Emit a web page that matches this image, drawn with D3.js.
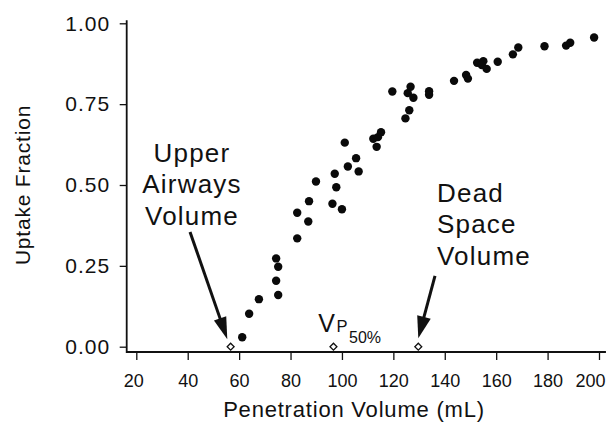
<!DOCTYPE html>
<html>
<head>
<meta charset="utf-8">
<script src="https://cdn.jsdelivr.net/npm/d3@7"></script>
<style>
  html, body { margin: 0; padding: 0; background: #fff; }
  svg { display: block; }
  text { font-family: "Liberation Sans", Arial, Helvetica, sans-serif; fill: #111; }
</style>
</head>
<body>
<svg id="chart" width="613" height="425"></svg>
<script>
// ---- data ----
const volume = [61.2, 63.9, 67.7, 74.4, 75.2, 74.4, 75.2, 82.6, 86.9, 82.6, 87.2, 89.9, 96.3, 100.0, 97.8, 97.2,
  102.3, 105.5, 106.5, 101.1, 113.5, 112.2, 115.2, 114.0, 124.7, 126.2, 119.6, 126.7, 125.6, 127.8, 133.9, 133.9,
  143.6, 148.3, 149.0, 152.6, 155.0, 154.4, 156.3, 160.6, 166.5, 168.6, 178.8, 187.2, 188.8, 198.1];
const uptake = [0.029, 0.102, 0.147, 0.273, 0.247, 0.204, 0.160, 0.335, 0.387, 0.414, 0.450, 0.511, 0.442, 0.425, 0.493, 0.535,
  0.557, 0.583, 0.542, 0.631, 0.618, 0.643, 0.663, 0.648, 0.706, 0.731, 0.789, 0.804, 0.784, 0.770, 0.790, 0.779,
  0.822, 0.840, 0.829, 0.878, 0.883, 0.871, 0.859, 0.881, 0.904, 0.925, 0.929, 0.931, 0.940, 0.956];
const markerVolumes = [56.7, 96.7, 129.7];   // Upper airways, VP50%, dead space
const markerUptake = [0, 0, 0];
const xTicks = [20, 40, 60, 80, 100, 120, 140, 160, 180, 200];
const xTickLabels = ["20", "40", "60", "80", "100", "120", "140", "160", "180", "200"];
const yTicks = [0, 0.25, 0.5, 0.75, 1];
const yTickLabels = ["0.00", "0.25", "0.50", "0.75", "1.00"];
const xTitle = "Penetration Volume (mL)";
const yTitle = "Uptake Fraction";
const upperLabel = ["Upper", "Airways", "Volume"];
const deadLabel = ["Dead", "Space", "Volume"];

// ---- layout ----
const svg = d3.select("#chart");
const x = d3.scaleLinear().domain([20, 200]).range([136.3, 599]);
const y = d3.scaleLinear().domain([0, 1]).range([346.7, 23.3]);
const axisY = 352;   // x-axis baseline (offset below y=0)
const axisX = 126.7; // y-axis position

// axes
const gx = svg.append("g").attr("transform", `translate(0,${axisY})`)
  .call(d3.axisBottom(x).tickValues(xTicks).tickFormat((d, i) => xTickLabels[i])
    .tickSize(8).tickSizeOuter(0).tickPadding(14));
gx.select(".domain").remove();
gx.selectAll("line").attr("stroke", "#111").attr("stroke-width", 1.3);
gx.selectAll("text").attr("font-size", 18).attr("fill", "#111")
  .style("font-family", '"Liberation Sans", Arial, sans-serif')
  .attr("dx", (d, i) => (i === 0 ? -3 : i === xTicks.length - 1 ? -9 : 0));

const gy = svg.append("g").attr("transform", `translate(${axisX},0)`)
  .call(d3.axisLeft(y).tickValues(yTicks).tickFormat((d, i) => yTickLabels[i])
    .tickSize(7).tickSizeOuter(0).tickPadding(9.5));
gy.select(".domain").remove();
gy.selectAll("line").attr("stroke", "#111").attr("stroke-width", 1.3);
gy.selectAll("text").attr("font-size", 21).attr("fill", "#111").attr("letter-spacing", 1)
  .style("font-family", '"Liberation Sans", Arial, sans-serif');

// L-shaped frame lines
svg.append("path")
  .attr("d", `M${axisX},${y(1) - 3}V${axisY}H${x(202.7)}`)
  .attr("fill", "none").attr("stroke", "#111").attr("stroke-width", 1.8);

// axis titles
svg.append("text").attr("x", 354).attr("y", 417).attr("text-anchor", "middle")
  .attr("font-size", 22).attr("letter-spacing", 0.8).text(xTitle);
svg.append("text").attr("transform", `translate(30,${(y(0) + y(1)) / 2 + 0})rotate(-90)`)
  .attr("text-anchor", "middle").attr("font-size", 21).attr("letter-spacing", 0.8).text(yTitle);

// data points
svg.append("g").selectAll("circle").data(volume).join("circle")
  .attr("cx", (d) => x(d)).attr("cy", (d, i) => y(uptake[i]))
  .attr("r", 4.2).attr("fill", "#0a0a0a");

// hollow diamond markers
svg.append("g").selectAll("path").data(markerVolumes).join("path")
  .attr("transform", (d, i) => `translate(${x(d)},${y(markerUptake[i])})rotate(45)`)
  .attr("d", d3.symbol(d3.symbolSquare, 24))
  .attr("fill", "#fff").attr("stroke", "#111").attr("stroke-width", 1.3);

// arrows (annotation), in data space
function arrow(v0, u0, v1, u1, headLen, headHalf) {
  const x0 = x(v0), y0 = y(u0), x1 = x(v1), y1 = y(u1);
  const dx = x1 - x0, dy = y1 - y0, L = Math.hypot(dx, dy);
  const ux = dx / L, uy = dy / L;
  const bx = x1 - ux * headLen, by = y1 - uy * headLen;
  svg.append("line").attr("x1", x0).attr("y1", y0).attr("x2", bx + ux * 2).attr("y2", by + uy * 2)
    .attr("stroke", "#111").attr("stroke-width", 3);
  svg.append("path")
    .attr("d", `M${x1},${y1}L${bx - uy * headHalf},${by + ux * headHalf}L${bx + uy * headHalf},${by - ux * headHalf}Z`)
    .attr("fill", "#111");
}
arrow(40.9, 0.355, 55.4, 0.023, 22, 6.5);
arrow(136.2, 0.219, 129.7, 0.026, 22, 7);

// annotation text
const upper = svg.append("text").attr("text-anchor", "middle").attr("font-size", 26).attr("letter-spacing", 1.2);
upperLabel.forEach((s, i) => upper.append("tspan").attr("x", 192).attr("y", 161.7 + i * 31.7).text(s));
const dead = svg.append("text").attr("text-anchor", "start").attr("font-size", 26).attr("letter-spacing", 1.2);
deadLabel.forEach((s, i) => dead.append("tspan").attr("x", 437).attr("y", 201.7 + i * 31.7).text(s));

const vp = svg.append("text").attr("x", 318.3).attr("y", 331.7);
vp.append("tspan").attr("font-size", 25).text("V");
vp.append("tspan").attr("font-size", 16.5).attr("dx", 1.5).text("P");
vp.append("tspan").attr("font-size", 16).attr("dx", 1.5).attr("dy", 11).text("50%");
</script>
</body>
</html>
